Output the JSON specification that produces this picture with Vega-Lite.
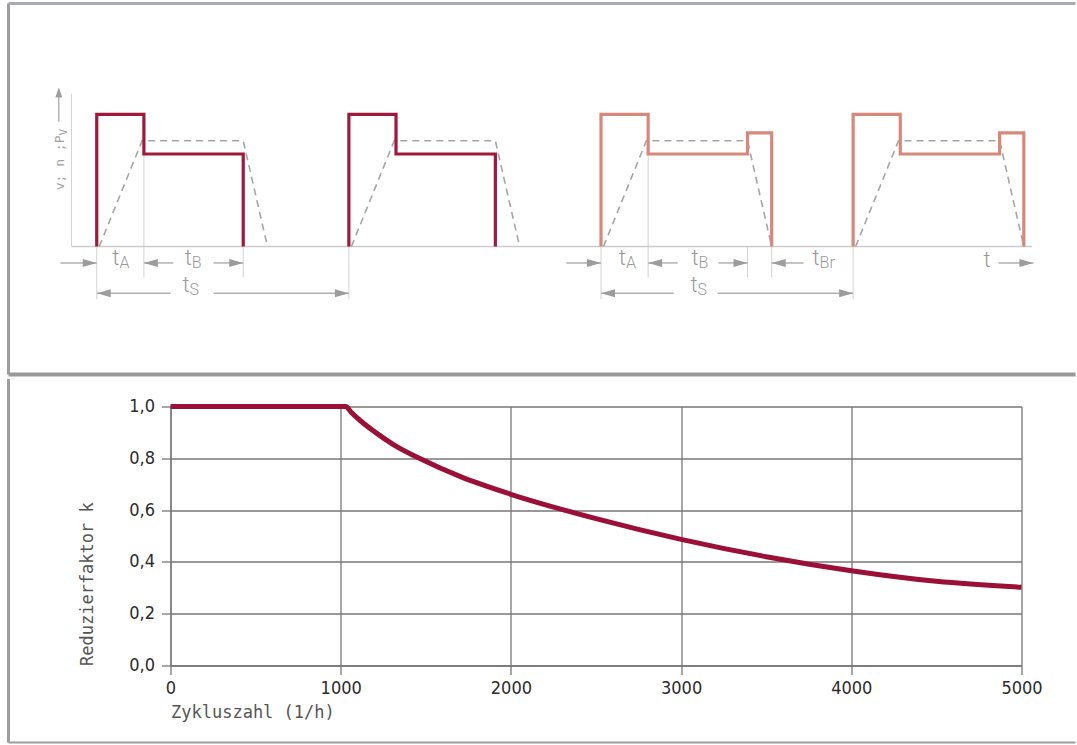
{
  "$schema": "https://vega.github.io/schema/vega-lite/v6.json",
  "background": "white",
  "padding": {"left": 6.5, "top": 1.5, "right": 0, "bottom": 0},
  "config": {"view": {"stroke": null}},
  "spacing": 0,
  "datasets": {
    "labels": [
      {"t": 0.9, "v": -1.44, "main": "t", "sub": "A"},
      {"t": 3.77, "v": -1.44, "main": "t", "sub": "B"},
      {"t": 3.68, "v": -3.47, "main": "t", "sub": "S"},
      {"t": 20.99, "v": -1.44, "main": "t", "sub": "A"},
      {"t": 23.87, "v": -1.44, "main": "t", "sub": "B"},
      {"t": 23.83, "v": -3.42, "main": "t", "sub": "S"},
      {"t": 28.67, "v": -1.44, "main": "t", "sub": "Br"},
      {"t": 35.45, "v": -1.55, "main": "t", "sub": ""}
    ],
    "ylabel": [
      {"t": -1.3, "v": 8.4, "main": "v; n ;P", "sub": "V"}
    ]
  },
  "vconcat": [
    {
      "width": 1067,
      "height": 371,
      "encoding": {
        "x": {"field": "t", "type": "quantitative", "scale": {"domain": [-3.5, 38.82], "nice": false, "zero": false}, "axis": null},
        "y": {"field": "v", "type": "quantitative", "scale": {"domain": [-9.7, 18.4], "nice": false, "zero": false}, "axis": null}
      },
      "layer": [
        {
          "data": {"values": [{"t": -3.5, "t2": 38.82, "v": 18.4}]},
          "mark": {"type": "rule", "color": "#a9acb6", "strokeWidth": 3},
          "encoding": {"x2": {"field": "t2"}}
        },
        {
          "data": {"values": [{"t": -3.5, "v": 18.4, "v2": -9.7}]},
          "mark": {"type": "rule", "color": "#9d9d9d", "strokeWidth": 3},
          "encoding": {"y2": {"field": "v2"}}
        },
        {
          "data": {"values": [{"t": -3.5, "t2": 38.82, "v": -9.7}]},
          "mark": {"type": "rule", "color": "#999999", "strokeWidth": 4},
          "encoding": {"x2": {"field": "t2"}}
        },
        {
          "data": {"values": [
            {"t": -1.0, "v": 0, "v2": 11.56},
            {"t": 0, "v": 0, "v2": -4.0},
            {"t": 1.87, "v": 7, "v2": -2.35},
            {"t": 5.81, "v": 0, "v2": -2.35},
            {"t": 10, "v": 0, "v2": -4.0},
            {"t": 20, "v": 0, "v2": -4.0},
            {"t": 21.87, "v": 7, "v2": -2.35},
            {"t": 25.81, "v": 0, "v2": -2.35},
            {"t": 26.77, "v": 0, "v2": -2.35},
            {"t": 30, "v": 0, "v2": -4.0}
          ]},
          "mark": {"type": "rule", "color": "#d3d3d3", "strokeWidth": 1},
          "encoding": {"y2": {"field": "v2"}}
        },
        {
          "data": {"values": [{"t": -1.0, "t2": 37.1, "v": 0}]},
          "mark": {"type": "rule", "color": "#cccccc", "strokeWidth": 1.5},
          "encoding": {"x2": {"field": "t2"}}
        },
        {
          "data": {"values": [
            {"t": -1.44, "t2": 0, "v": -1.25},
            {"t": 1.87, "t2": 3.04, "v": -1.25},
            {"t": 4.63, "t2": 5.81, "v": -1.25},
            {"t": 18.63, "t2": 20, "v": -1.25},
            {"t": 21.87, "t2": 23.04, "v": -1.25},
            {"t": 24.66, "t2": 25.81, "v": -1.25},
            {"t": 26.77, "t2": 28.03, "v": -1.25},
            {"t": 35.77, "t2": 37.15, "v": -1.25},
            {"t": 0, "t2": 2.93, "v": -3.55},
            {"t": 4.63, "t2": 10, "v": -3.55},
            {"t": 20, "t2": 22.88, "v": -3.55},
            {"t": 24.62, "t2": 30, "v": -3.55}
          ]},
          "mark": {"type": "rule", "color": "#b0b0b0", "strokeWidth": 1.5},
          "encoding": {"x2": {"field": "t2"}}
        },
        {
          "data": {"values": [{"t": -1.505, "v": 9.46, "v2": 11.3}]},
          "mark": {"type": "rule", "color": "#a8a8a8", "strokeWidth": 1.3},
          "encoding": {"y2": {"field": "v2"}}
        },
        {
          "data": {"values": [
            {"cycle": 1, "i": 0, "t": 0.1, "v": 0}, {"cycle": 1, "i": 1, "t": 1.8, "v": 8}, {"cycle": 1, "i": 2, "t": 5.81, "v": 8}, {"cycle": 1, "i": 3, "t": 6.77, "v": 0},
            {"cycle": 2, "i": 0, "t": 10.1, "v": 0}, {"cycle": 2, "i": 1, "t": 11.8, "v": 8}, {"cycle": 2, "i": 2, "t": 15.81, "v": 8}, {"cycle": 2, "i": 3, "t": 16.77, "v": 0},
            {"cycle": 3, "i": 0, "t": 20.1, "v": 0}, {"cycle": 3, "i": 1, "t": 21.8, "v": 8}, {"cycle": 3, "i": 2, "t": 25.81, "v": 8}, {"cycle": 3, "i": 3, "t": 26.77, "v": 0},
            {"cycle": 4, "i": 0, "t": 30.1, "v": 0}, {"cycle": 4, "i": 1, "t": 31.8, "v": 8}, {"cycle": 4, "i": 2, "t": 35.81, "v": 8}, {"cycle": 4, "i": 3, "t": 36.77, "v": 0}
          ]},
          "mark": {"type": "line", "color": "#a5a5a5", "strokeDash": [7, 5], "strokeWidth": 1.6},
          "encoding": {"detail": {"field": "cycle", "type": "nominal"}, "order": {"field": "i", "type": "quantitative"}}
        },
        {
          "data": {"values": [
            {"mode": "ohne Bremse", "cycle": 1, "i": 0, "t": 0, "v": 0},
            {"mode": "ohne Bremse", "cycle": 1, "i": 1, "t": 0, "v": 10},
            {"mode": "ohne Bremse", "cycle": 1, "i": 2, "t": 1.87, "v": 10},
            {"mode": "ohne Bremse", "cycle": 1, "i": 3, "t": 1.87, "v": 7},
            {"mode": "ohne Bremse", "cycle": 1, "i": 4, "t": 5.81, "v": 7},
            {"mode": "ohne Bremse", "cycle": 1, "i": 5, "t": 5.81, "v": 0},
            {"mode": "ohne Bremse", "cycle": 2, "i": 0, "t": 10, "v": 0},
            {"mode": "ohne Bremse", "cycle": 2, "i": 1, "t": 10, "v": 10},
            {"mode": "ohne Bremse", "cycle": 2, "i": 2, "t": 11.87, "v": 10},
            {"mode": "ohne Bremse", "cycle": 2, "i": 3, "t": 11.87, "v": 7},
            {"mode": "ohne Bremse", "cycle": 2, "i": 4, "t": 15.81, "v": 7},
            {"mode": "ohne Bremse", "cycle": 2, "i": 5, "t": 15.81, "v": 0},
            {"mode": "mit Bremse", "cycle": 3, "i": 0, "t": 20, "v": 0},
            {"mode": "mit Bremse", "cycle": 3, "i": 1, "t": 20, "v": 10},
            {"mode": "mit Bremse", "cycle": 3, "i": 2, "t": 21.87, "v": 10},
            {"mode": "mit Bremse", "cycle": 3, "i": 3, "t": 21.87, "v": 7},
            {"mode": "mit Bremse", "cycle": 3, "i": 4, "t": 25.81, "v": 7},
            {"mode": "mit Bremse", "cycle": 3, "i": 5, "t": 25.81, "v": 8.6},
            {"mode": "mit Bremse", "cycle": 3, "i": 6, "t": 26.77, "v": 8.6},
            {"mode": "mit Bremse", "cycle": 3, "i": 7, "t": 26.77, "v": 0},
            {"mode": "mit Bremse", "cycle": 4, "i": 0, "t": 30, "v": 0},
            {"mode": "mit Bremse", "cycle": 4, "i": 1, "t": 30, "v": 10},
            {"mode": "mit Bremse", "cycle": 4, "i": 2, "t": 31.87, "v": 10},
            {"mode": "mit Bremse", "cycle": 4, "i": 3, "t": 31.87, "v": 7},
            {"mode": "mit Bremse", "cycle": 4, "i": 4, "t": 35.81, "v": 7},
            {"mode": "mit Bremse", "cycle": 4, "i": 5, "t": 35.81, "v": 8.6},
            {"mode": "mit Bremse", "cycle": 4, "i": 6, "t": 36.77, "v": 8.6},
            {"mode": "mit Bremse", "cycle": 4, "i": 7, "t": 36.77, "v": 0}
          ]},
          "mark": {"type": "line", "strokeWidth": 3.2, "strokeJoin": "miter", "strokeCap": "butt"},
          "encoding": {
            "color": {"field": "mode", "type": "nominal", "scale": {"domain": ["ohne Bremse", "mit Bremse"], "range": ["#9e1a3d", "#d8877b"]}, "legend": null},
            "detail": {"field": "cycle", "type": "nominal"},
            "order": {"field": "i", "type": "quantitative"}
          }
        },
        {
          "data": {"values": [
            {"t": 0, "v": -1.25, "dir": "rechts"},
            {"t": 5.81, "v": -1.25, "dir": "rechts"},
            {"t": 10, "v": -3.55, "dir": "rechts"},
            {"t": 20, "v": -1.25, "dir": "rechts"},
            {"t": 25.81, "v": -1.25, "dir": "rechts"},
            {"t": 30, "v": -3.55, "dir": "rechts"},
            {"t": 37.15, "v": -1.25, "dir": "rechts"},
            {"t": 1.87, "v": -1.25, "dir": "links"},
            {"t": 0, "v": -3.55, "dir": "links"},
            {"t": 21.87, "v": -1.25, "dir": "links"},
            {"t": 26.77, "v": -1.25, "dir": "links"},
            {"t": 20, "v": -3.55, "dir": "links"},
            {"t": -1.505, "v": 12.04, "dir": "oben"}
          ]},
          "mark": {"type": "point", "filled": true, "size": 196, "color": "#9c9c9c", "opacity": 1, "strokeWidth": 0},
          "encoding": {
            "shape": {"field": "dir", "type": "nominal", "scale": {"domain": ["rechts", "links", "oben"], "range": ["M0,0L-2,-0.57L-2,0.57Z", "M0,0L2,-0.57L2,0.57Z", "M0,0L-0.5,1.43L0.5,1.43Z"]}, "legend": null}
          }
        },
        {
          "data": {"name": "labels"},
          "mark": {"type": "text", "font": "Roboto", "fontWeight": 300, "fontSize": 22, "color": "#9a9a9a", "align": "right", "baseline": "alphabetic"},
          "encoding": {"text": {"field": "main"}}
        },
        {
          "data": {"name": "labels"},
          "mark": {"type": "text", "font": "Roboto", "fontWeight": 300, "fontSize": 16, "color": "#9a9a9a", "align": "left", "baseline": "alphabetic", "dy": 3},
          "encoding": {"text": {"field": "sub"}}
        },
        {
          "data": {"name": "ylabel"},
          "mark": {"type": "text", "font": "DejaVu Sans Mono", "fontSize": 13, "color": "#a0a0a0", "align": "right", "baseline": "alphabetic", "angle": 270},
          "encoding": {"text": {"field": "main"}}
        },
        {
          "data": {"name": "ylabel"},
          "mark": {"type": "text", "font": "DejaVu Sans Mono", "fontSize": 11, "color": "#a0a0a0", "align": "left", "baseline": "alphabetic", "angle": 270, "dy": 3},
          "encoding": {"text": {"field": "sub"}}
        }
      ]
    },
    {
      "spacing": -3,
      "hconcat": [
        {
          "width": 1,
          "height": 1,
          "data": {"values": []},
          "mark": "rect",
          "encoding": {}
        },
        {
          "width": 851,
          "height": 259,
          "encoding": {
            "x": {
              "field": "N", "type": "quantitative",
              "scale": {"domain": [0, 5000], "nice": false, "zero": false},
              "axis": {
                "values": [0, 1000, 2000, 3000, 4000, 5000],
                "format": "d",
                "title": "Zykluszahl (1/h)",
                "grid": true, "gridColor": "#777777", "gridWidth": 1.3, "gridOpacity": 1,
                "domainColor": "#777777", "domainWidth": 1.3,
                "tickColor": "#777777", "tickWidth": 1.3, "tickSize": 9,
                "labelFont": "DejaVu Sans Condensed", "labelFontSize": 18, "labelColor": "#2b2b2b", "labelPadding": 5,
                "labelFlush": false, "labelOverlap": false,
                "titleFont": "DejaVu Sans Mono", "titleFontSize": 17, "titleFontWeight": "normal", "titleColor": "#555555",
                "titleAnchor": "start", "titlePadding": 7
              }
            },
            "y": {
              "field": "k", "type": "quantitative",
              "scale": {"domain": [0, 1], "nice": false, "zero": false},
              "axis": {
                "values": [0, 0.2, 0.4, 0.6, 0.8, 1.0],
                "format": ".1f",
                "labelExpr": "replace(datum.label, '.', ',')",
                "title": "Reduzierfaktor k",
                "grid": true, "gridColor": "#777777", "gridWidth": 1.3, "gridOpacity": 1,
                "domainColor": "#777777", "domainWidth": 1.3,
                "tickColor": "#777777", "tickWidth": 1.3, "tickSize": 9,
                "labelFont": "DejaVu Sans Condensed", "labelFontSize": 18, "labelColor": "#2b2b2b", "labelPadding": 7,
                "labelFlush": false, "labelOverlap": false,
                "titleFont": "DejaVu Sans Mono", "titleFontSize": 17, "titleFontWeight": "normal", "titleColor": "#555555",
                "titleAnchor": "start", "titlePadding": 32
              }
            }
          },
          "layer": [
            {
              "data": {"values": [{"N": -951.8, "k": 1.1062, "k2": -0.297}]},
              "mark": {"type": "rule", "color": "#9d9d9d", "strokeWidth": 3},
              "encoding": {"y2": {"field": "k2"}}
            },
            {
              "data": {"values": [{"N": -951.8, "N2": 5317, "k": -0.297}]},
              "mark": {"type": "rule", "color": "#9d9d9d", "strokeWidth": 2},
              "encoding": {"x2": {"field": "N2"}}
            },
            {
              "data": {"values": [
                {"N": 0, "k": 1.0}, {"N": 1000, "k": 1.0}, {"N": 1030, "k": 1.0},
                {"N": 1060, "k": 0.979}, {"N": 1116, "k": 0.945}, {"N": 1200, "k": 0.902},
                {"N": 1312, "k": 0.852}, {"N": 1468, "k": 0.798}, {"N": 1704, "k": 0.729},
                {"N": 2000, "k": 0.661}, {"N": 2500, "k": 0.567}, {"N": 3000, "k": 0.487},
                {"N": 3500, "k": 0.42}, {"N": 4000, "k": 0.366}, {"N": 4500, "k": 0.325},
                {"N": 5000, "k": 0.302}
              ]},
              "mark": {"type": "line", "color": "#9b1037", "strokeWidth": 5, "interpolate": "monotone", "strokeCap": "butt"}
            }
          ]
        }
      ]
    }
  ]
}
